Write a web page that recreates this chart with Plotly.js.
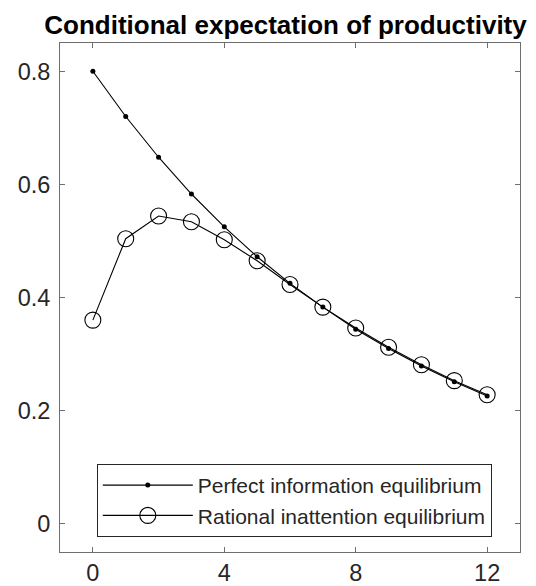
<!DOCTYPE html>
<html>
<head>
<meta charset="utf-8">
<script src="https://cdn.plot.ly/plotly-3.0.1.min.js"></script>
<style>html,body{margin:0;padding:0;background:#fff;}#chart{width:536px;height:586px;}</style>
</head>
<body>
<div id="chart"></div>
<script>
// Data
const periods = [0, 1, 2, 3, 4, 5, 6, 7, 8, 9, 10, 11, 12];
const perfectInfo = [0.8, 0.72, 0.648, 0.583, 0.525, 0.472, 0.425, 0.383, 0.344, 0.31, 0.279, 0.251, 0.226];
const rationalInattention = [0.36, 0.504, 0.544, 0.534, 0.502, 0.465, 0.423, 0.383, 0.346, 0.312, 0.281, 0.253, 0.228];
const seriesNames = ['Perfect information equilibrium', 'Rational inattention equilibrium'];
const xTicks = [0, 4, 8, 12];
const yTicks = [0, 0.2, 0.4, 0.6, 0.8];
const yTickText = ['0', '0.2', '0.4', '0.6', '0.8'];
const titleText = 'Conditional expectation of productivity';

const FONT = 'Arial, "Liberation Sans", Helvetica, sans-serif';
const AX = '#262626';

const traces = [
  {
    x: periods, y: perfectInfo, name: seriesNames[0], type: 'scatter', mode: 'lines+markers',
    line: {color: '#000', width: 1.1},
    marker: {symbol: 'circle', size: 5, color: '#000'}
  },
  {
    x: periods, y: rationalInattention, name: seriesNames[1], type: 'scatter', mode: 'lines+markers',
    line: {color: '#000', width: 1.1},
    marker: {symbol: 'circle-open', size: 16, color: '#000', line: {width: 1.1, color: '#000'}}
  }
];

const axisCommon = {
  showline: true, linecolor: '#6e6e6e', linewidth: 1, mirror: 'allticks',
  ticks: 'inside', ticklen: 5, tickwidth: 1, tickcolor: '#6e6e6e',
  showgrid: false, zeroline: false,
  tickfont: {family: FONT, size: 23.5, color: AX}
};

const layout = {
  width: 536, height: 586,
  margin: {l: 60, r: 16, t: 43, b: 34, pad: 0},
  paper_bgcolor: '#fff', plot_bgcolor: '#fff',
  title: {
    text: '<b>' + titleText + '</b>',
    font: {family: FONT, size: 26, color: '#000'},
    x: 285.5 / 536, xref: 'container', xanchor: 'center',
    y: 1 - 25 / 586, yref: 'container', yanchor: 'middle'
  },
  xaxis: Object.assign({}, axisCommon, {range: [-1, 13], tickvals: xTicks, ticktext: xTicks.map(String)}),
  yaxis: Object.assign({}, axisCommon, {range: [-0.05, 0.85], tickvals: yTicks, ticktext: yTickText, ticklabelstandoff: 4}),
  showlegend: true,
  legend: {
    x: 0.08, y: 0.173, xanchor: 'left', yanchor: 'top',
    bgcolor: '#fff', bordercolor: AX, borderwidth: 1,
    font: {family: FONT, size: 21, color: AX},
    itemwidth: 90, tracegroupgap: 0
  }
};

Plotly.newPlot('chart', traces, layout, {displayModeBar: false, staticPlot: true});
</script>
</body>
</html>
